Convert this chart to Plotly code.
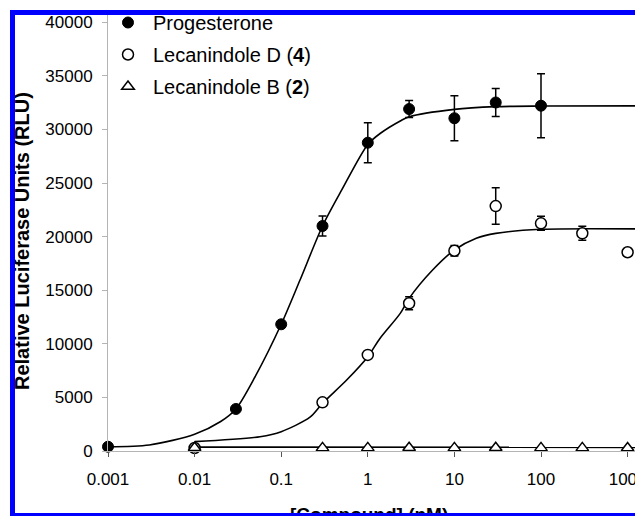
import plotly.graph_objects as go

# ---------------- data ----------------
x_tickvals = [0.001, 0.01, 0.1, 1, 10, 100, 1000]
x_ticktext = ["0.001", "0.01", "0.1", "1", "10", "100", "1000"]
y_tickvals = [0, 5000, 10000, 15000, 20000, 25000, 30000, 35000, 40000]
y_ticktext = ["0", "5000", "10000", "15000", "20000", "25000", "30000", "35000", "40000"]

prog_x = [0.001, 0.03, 0.1, 0.3, 1, 3, 10, 30, 100]
prog_y = [400, 3920, 11820, 20990, 28760, 31900, 31040, 32510, 32210]
prog_err = [0, 0, 0, 930, 1870, 800, 2100, 1300, 2990]

lecD_x = [0.01, 0.3, 1, 3, 10, 30, 100, 300, 1000]
lecD_y = [280, 4540, 8960, 13780, 18680, 22850, 21240, 20310, 18540]
lecD_err = [0, 0, 0, 600, 500, 1700, 650, 650, 0]

lecB_x = [0.01, 0.3, 1, 3, 10, 30, 100, 300, 1000]
lecB_y = [300, 290, 290, 300, 290, 300, 290, 290, 280]

# fitted curves as drawn in the picture
prog_fit_x = [0.001, 0.003, 0.01, 0.02, 0.03, 0.05, 0.1, 0.165, 0.3, 0.5, 1, 1.4, 2.4, 3, 10, 30, 100, 1300]
prog_fit_y = [400, 560, 1560, 2750, 3920, 6930, 11820, 15950, 20990, 24350, 28600, 29640, 30810, 31180, 31870, 32120, 32180, 32200]

lecD_fit_x = [0.01, 0.057, 0.1, 0.215, 0.3, 0.57, 1, 1.38, 2.37, 3, 5.6, 10, 17.9, 30, 100, 1300]
lecD_fit_y = [870, 1330, 1800, 3150, 4450, 6620, 8800, 10500, 12840, 14240, 16880, 18750, 19840, 20300, 20680, 20720]

lecB_fit_x = [0.01, 1300]
lecB_fit_y = [360, 340]

names = ["Progesterone", "Lecanindole D (<b>4</b>)", "Lecanindole B (<b>2</b>)"]

FONT = "Arial, Liberation Sans, sans-serif"
BLUE = "#0000ff"

fig = go.Figure()

line_style = dict(color="black", width=1.6, shape="spline", smoothing=0.8)
for fx, fy in [(prog_fit_x, prog_fit_y), (lecD_fit_x, lecD_fit_y), (lecB_fit_x, lecB_fit_y)]:
    fig.add_trace(go.Scatter(x=fx, y=fy, mode="lines", line=line_style,
                             showlegend=False, hoverinfo="skip"))

err_style = dict(type="data", color="black", thickness=1.5, width=4)

fig.add_trace(go.Scatter(
    x=prog_x, y=prog_y, mode="markers", name=names[0], legendgroup="a",
    marker=dict(symbol="circle", size=11, color="black", line=dict(color="black", width=1)),
    error_y=dict(array=prog_err, **err_style), cliponaxis=False))
fig.add_trace(go.Scatter(
    x=lecD_x, y=lecD_y, mode="markers", name=names[1], legendgroup="b",
    marker=dict(symbol="circle", size=11, color="white", line=dict(color="black", width=1.5)),
    error_y=dict(array=lecD_err, **err_style), cliponaxis=False))
fig.add_trace(go.Scatter(
    x=lecB_x, y=lecB_y, mode="markers", name=names[2], legendgroup="c",
    marker=dict(symbol="triangle-up", size=11, color="white", line=dict(color="black", width=1.5)),
    cliponaxis=False))

L, T, B = 108, 12, 65
W, H = 635, 516
pw, ph = W - L, H - T - B


def px(xp):
    return (xp - L) / pw


def py(yp):
    return (T + ph - yp) / ph


annotations = [
    dict(text="<b>Relative Luciferase Units (RLU)</b>", textangle=-90,
         xref="paper", yref="paper", x=px(22), y=py(241), xanchor="center", yanchor="middle",
         showarrow=False, font=dict(family=FONT, size=20, color="black")),
    dict(text="<b>[Compound] (nM)</b>",
         xref="paper", yref="paper", x=px(369), y=py(502), xanchor="center", yanchor="top",
         showarrow=False, font=dict(family=FONT, size=19, color="black")),
]
# blue frame drawn on top
for (x0, y0, w, h) in [(10, 10, 5, 506), (10, 10, 625, 5), (10, 513, 625, 3)]:
    annotations.append(dict(text=" ", xref="paper", yref="paper", x=px(x0), y=py(y0),
                            xanchor="left", yanchor="top", width=w, height=h,
                            bgcolor=BLUE, borderpad=0, borderwidth=0, showarrow=False,
                            font=dict(size=1)))

fig.update_layout(
    width=W, height=H,
    margin=dict(l=L, r=0, t=T, b=B, pad=0),
    paper_bgcolor="white", plot_bgcolor="white",
    font=dict(family=FONT, color="black"),
    showlegend=True,
    legend=dict(x=px(103), y=py(3), xanchor="left", yanchor="top",
                bgcolor="rgba(0,0,0,0)", borderwidth=0, itemwidth=40,
                tracegroupgap=3, traceorder="grouped",
                font=dict(family=FONT, size=20, color="black")),
    xaxis=dict(type="log", range=[-3, 3.0855], tickvals=x_tickvals, ticktext=x_ticktext,
               showline=True, linecolor="#b4b4b4", linewidth=1, mirror=False,
               ticks="outside", ticklen=5, tickcolor="#555555", tickwidth=1,
               showgrid=False, zeroline=False, automargin=False, ticklabelstandoff=8,
               ticklabeloverflow="allow",
               tickfont=dict(family=FONT, size=17, color="black")),
    yaxis=dict(range=[0, ph / 0.01072], tickvals=y_tickvals, ticktext=y_ticktext,
               showline=True, linecolor="#b4b4b4", linewidth=1,
               ticks="outside", ticklen=5, tickcolor="#b4b4b4", tickwidth=1,
               showgrid=False, zeroline=False, automargin=False, ticklabelstandoff=6,
               ticklabeloverflow="allow",
               tickfont=dict(family=FONT, size=17, color="black")),
    annotations=annotations,
)

fig.write_html("out.html", config={"displayModeBar": False},
               post_script="document.body.style.margin='0';document.body.style.overflow='hidden';")
